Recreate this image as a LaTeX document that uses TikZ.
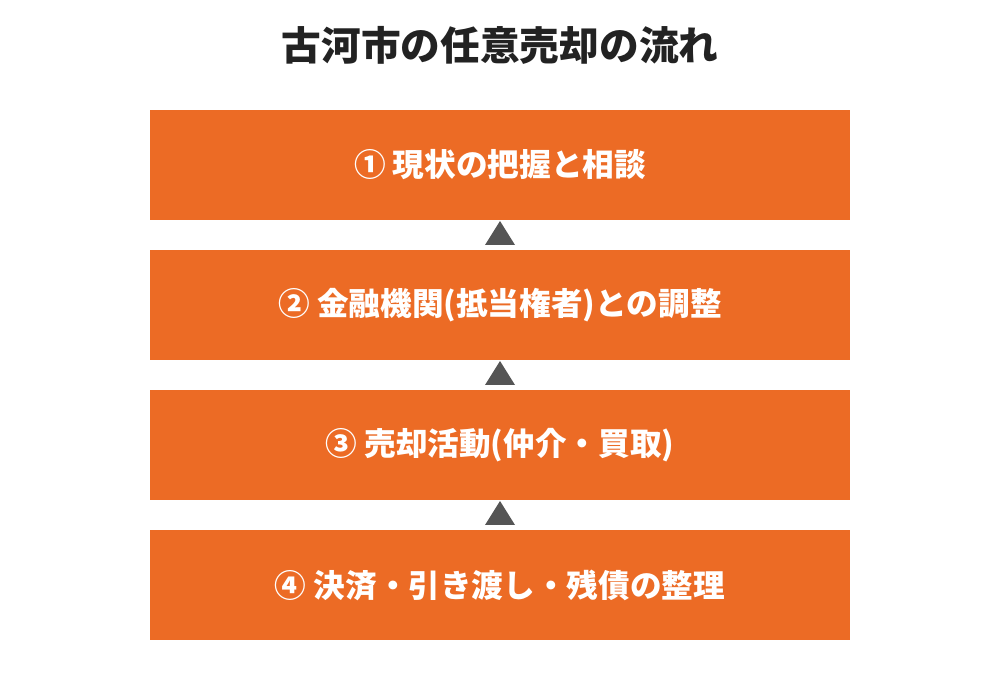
\documentclass[tikz,border=0pt]{standalone}
\usepackage{fontspec}
\setmainfont{Noto Sans CJK JP}
\usetikzlibrary{positioning,calc}

\definecolor{steporange}{RGB}{236,107,37}
\definecolor{arrowgray}{RGB}{85,85,85}
\definecolor{titlegray}{RGB}{34,34,34}

\tikzset{
	stepbox/.style={fill=steporange, text=white, minimum width=14cm, minimum height=2.2cm,
		inner sep=0pt, outer sep=0pt, font=\fontsize{18}{21}\selectfont\bfseries},
	uparrow/.style={fill=arrowgray}
}

\begin{document}
\begin{tikzpicture}
		\useasboundingbox (0,0) rectangle (20,14);
		\node[text=titlegray, font=\fontsize{22.6}{26}\selectfont\bfseries] (title) at (10,13.1) {古河市の任意売却の流れ};
		
		\node[stepbox] (s1) at (10,10.7) {① 現状の把握と相談};
		\node[stepbox, below=0.6cm of s1] (s2) {② 金融機関(抵当権者)との調整};
		\node[stepbox, below=0.6cm of s2] (s3) {③ 売却活動(仲介・買取)};
		\node[stepbox, below=0.6cm of s3] (s4) {④ 決済・引き渡し・残債の整理};
		
		% arrows between the steps
		\foreach \a/\b in {s1/s2, s2/s3, s3/s4}
			\fill[uparrow] ($(\a.south)+(0,-0.02)$) -- ($(\b.north)+(-0.3,0.1)$) -- ($(\b.north)+(0.3,0.1)$) -- cycle;
	\end{tikzpicture}
\end{document}
